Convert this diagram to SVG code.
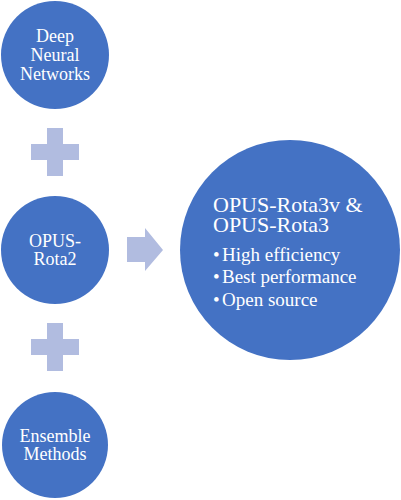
<svg xmlns="http://www.w3.org/2000/svg" width="401" height="500" viewBox="0 0 401 500">
<defs>
<style>
.node{fill:#4472C4}
.conn{fill:#B1BCE0}
</style>
</defs>
<rect width="401" height="500" fill="#ffffff"/>
<g id="connectors">
<path class="conn" d="M47,128 H63 V144 H79 V160 H63 V176 H47 V160 H31 V144 H47 Z"/>
<path class="conn" d="M47,323 H63 V339 H79 V355 H63 V371 H47 V355 H31 V339 H47 Z"/>
<path class="conn" d="M127,237 H145 V228 L163,250 L145,271 V262 H127 Z"/>
</g>
<g id="node-dnn">
<circle class="node" cx="55" cy="55" r="54"/>
<text x="55" y="42" font-family="Liberation Serif" font-size="18" fill="#ffffff" text-anchor="middle">Deep</text>
<text x="55" y="61" font-family="Liberation Serif" font-size="18" fill="#ffffff" text-anchor="middle">Neural</text>
<text x="55" y="80" font-family="Liberation Serif" font-size="18" fill="#ffffff" text-anchor="middle">Networks</text>
</g>
<g id="node-rota2">
<circle class="node" cx="55" cy="250" r="54"/>
<text x="55" y="247" font-family="Liberation Serif" font-size="18" fill="#ffffff" text-anchor="middle">OPUS-</text>
<text x="55" y="265" font-family="Liberation Serif" font-size="18" fill="#ffffff" text-anchor="middle">Rota2</text>
</g>
<g id="node-ensemble">
<circle class="node" cx="55" cy="445" r="53"/>
<text x="55" y="442" font-family="Liberation Serif" font-size="18" fill="#ffffff" text-anchor="middle">Ensemble</text>
<text x="55" y="460" font-family="Liberation Serif" font-size="18" fill="#ffffff" text-anchor="middle">Methods</text>
</g>
<g id="node-rota3">
<circle class="node" cx="290" cy="250" r="110"/>
<text x="213" y="212" font-family="Liberation Serif" font-size="22" fill="#ffffff">OPUS-Rota3v &amp;</text>
<text x="213" y="232" font-family="Liberation Serif" font-size="22" fill="#ffffff">OPUS-Rota3</text>
<text x="213" y="261" font-family="Liberation Serif" font-size="19" fill="#ffffff">•</text>
<text x="222" y="261" font-family="Liberation Serif" font-size="19" fill="#ffffff">High efficiency</text>
<text x="213" y="283" font-family="Liberation Serif" font-size="19" fill="#ffffff">•</text>
<text x="222" y="283" font-family="Liberation Serif" font-size="19" fill="#ffffff">Best performance</text>
<text x="213" y="306" font-family="Liberation Serif" font-size="19" fill="#ffffff">•</text>
<text x="222" y="306" font-family="Liberation Serif" font-size="19" fill="#ffffff">Open source</text>
</g>
</svg>
